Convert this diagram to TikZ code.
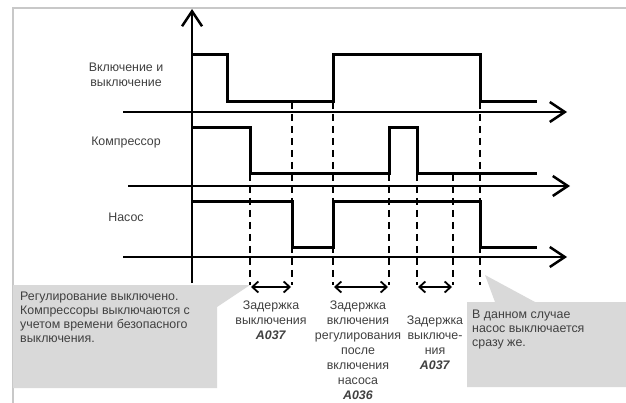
\documentclass[tikz,border=0pt]{standalone}
\usepackage{fontspec}
\setmainfont{Liberation Sans}
\usetikzlibrary{arrows.meta,positioning}
\definecolor{txtgray}{HTML}{404040}
\definecolor{boxgray}{HTML}{D9D9D9}
\definecolor{framegray}{HTML}{C8C8C8}

\begin{document}
\begin{tikzpicture}[x=1pt, y=-1pt,
    sig/.style={line width=3pt, line join=miter},
    axis/.style={line width=2.5pt, -{Straight Barb[length=15pt,width=20pt]}},
    guide/.style={line width=1.8pt, dash pattern=on 7pt off 5pt},
    delay/.style={line width=1.8pt, {Straight Barb[length=6pt,width=11pt]}-{Straight Barb[length=6pt,width=11pt]}},
    lbl/.style={text=txtgray, font=\fontsize{12.4}{15}\selectfont, align=center, inner sep=0pt},
    note/.style={lbl, align=left, anchor=north west, font=\fontsize{12.4}{14}\selectfont},
    callout/.style={fill=boxgray, draw=none}]
        \useasboundingbox (0,0) rectangle (626,403);
        \fill[white] (0,0) rectangle (626,403);
        \draw[framegray, line width=1.5pt] (13,403) -- (13,8) -- (626,8);

        % callouts
        \fill[callout] (13,285) -- (250,285) -- (217,307) -- (217,388) -- (13,388) -- cycle;
        \fill[callout] (467,302) -- (495,302) -- (485,275) -- (535,302) -- (626,302) -- (626,387) -- (467,387) -- cycle;

        % guides
        \foreach \x/\t in {250/174, 292/102, 333/102, 389/174, 417/174, 453/174, 480/102} {
            \draw[guide] (\x,\t) -- (\x,285);
        }

        % axes
        \draw[axis] (192,283) -- (192,9);
        \draw[axis] (123,112) -- (567,112);
        \draw[axis] (128,186) -- (570,186);
        \draw[axis] (123,257) -- (567,257);

        % Включение и выключение
        \draw[sig] (192,55) -- (227,55) -- (227,102) -- (333,102) -- (333,55) -- (480,55) -- (480,102) -- (537,102);
        \node[lbl] (onoff) at (126,75) {Включение и\\выключение};

        % Компрессор
        \draw[sig] (192,128) -- (250,128) -- (250,174) -- (389,174) -- (389,128) -- (417,128) -- (417,174) -- (537,174);
        \node[lbl] (comp) at (126,143) {Компрессор};

        % Насос
        \draw[sig] (192,202) -- (292,202) -- (292,248) -- (333,248) -- (333,202) -- (480,202) -- (480,248) -- (537,248);
        \node[lbl] (pump) at (126,217) {Насос};

        % delays
        \coordinate (d1a) at (251,287);
        \coordinate (d1b) at (291,287);
        \coordinate (d2a) at (334,287);
        \coordinate (d2b) at (388,287);
        \coordinate (d3a) at (418,287);
        \coordinate (d3b) at (452,287);
        \draw[delay] (d1a) -- (d1b);
        \draw[delay] (d2a) -- (d2b);
        \draw[delay] (d3a) -- (d3b);

        \node[lbl] (offdelay) at (271,320) {Задержка\\выключения\\\textbf{\textit{A037}}};
        \node[lbl] (ondelay) at (358,350) {Задержка\\включения\\регулирования\\после\\включения\\насоса\\\textbf{\textit{A036}}};
        \node[lbl] (offdelaytwo) at (435,343) {Задержка\\выключе-\\ния\\\textbf{\textit{A037}}};

        \node[note] (leftnote) at (20,292) {Регулирование выключено.\\Компрессоры выключаются с\\учетом времени безопасного\\выключения.};
        \node[note] (rightnote) at (472,310) {В данном случае\\насос выключается\\сразу же.};
    \end{tikzpicture}
\end{document}
